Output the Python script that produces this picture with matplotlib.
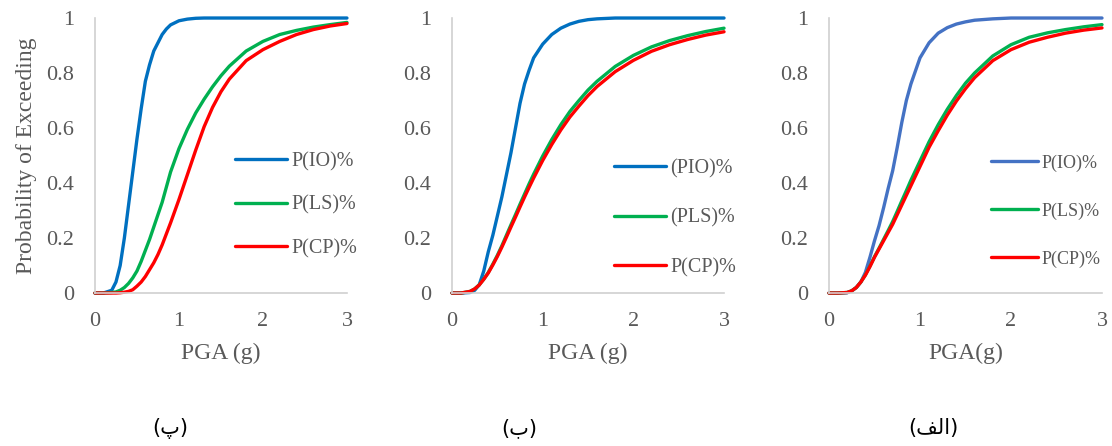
import matplotlib
matplotlib.use("Agg")
import matplotlib.pyplot as plt

plt.rcParams["font.family"] = ["Liberation Serif", "DejaVu Serif"]

# PGA (g) sample points
pga = [0, 0.1, 0.2, 0.25, 0.3, 0.35, 0.4, 0.45, 0.5, 0.55, 0.6, 0.65, 0.7, 0.75,
       0.8, 0.85, 0.9, 1.0, 1.1, 1.2, 1.3, 1.4, 1.5, 1.6, 1.8, 2.0, 2.2, 2.4,
       2.6, 2.8, 3.0]

# panel (پ) - left
io_p = [0, 0, 0.01, 0.04, 0.10, 0.20, 0.32, 0.44, 0.56, 0.67, 0.77, 0.83, 0.88,
        0.91, 0.94, 0.96, 0.975, 0.99, 0.996, 0.999, 1, 1, 1, 1, 1, 1, 1, 1, 1,
        1, 1]
ls_p = [0, 0, 0.002, 0.004, 0.01, 0.02, 0.035, 0.055, 0.08, 0.115, 0.155, 0.195,
        0.24, 0.285, 0.33, 0.385, 0.44, 0.525, 0.595, 0.655, 0.705, 0.75, 0.79,
        0.825, 0.88, 0.915, 0.94, 0.955, 0.967, 0.976, 0.984]
cp_p = [0, 0, 0, 0, 0.001, 0.003, 0.006, 0.012, 0.025, 0.04, 0.06, 0.085, 0.11,
        0.14, 0.175, 0.215, 0.255, 0.34, 0.43, 0.52, 0.605, 0.675, 0.732, 0.778,
        0.845, 0.885, 0.915, 0.94, 0.958, 0.971, 0.98]

# panel (ب) - middle
io_b = [0, 0, 0.002, 0.01, 0.03, 0.08, 0.15, 0.21, 0.28, 0.35, 0.43, 0.51, 0.6,
        0.69, 0.76, 0.81, 0.855, 0.905, 0.94, 0.963, 0.978, 0.988, 0.994,
        0.997, 1, 1, 1, 1, 1, 1, 1]
ls_b = [0, 0, 0.006, 0.015, 0.03, 0.05, 0.075, 0.105, 0.137, 0.172, 0.21, 0.248,
        0.285, 0.323, 0.36, 0.397, 0.432, 0.498, 0.558, 0.612, 0.66, 0.70,
        0.738, 0.77, 0.824, 0.864, 0.895, 0.918, 0.936, 0.951, 0.963]
cp_b = [0, 0, 0.006, 0.015, 0.029, 0.05, 0.073, 0.102, 0.133, 0.167, 0.203,
        0.24, 0.276, 0.313, 0.349, 0.384, 0.418, 0.482, 0.54, 0.593, 0.64, 0.68,
        0.718, 0.751, 0.805, 0.846, 0.879, 0.903, 0.922, 0.938, 0.95]

# panel (الف) - right
io_a = [0, 0, 0.001, 0.008, 0.02, 0.04, 0.075, 0.13, 0.19, 0.245, 0.31, 0.38,
        0.445, 0.53, 0.62, 0.7, 0.76, 0.855, 0.91, 0.945, 0.965, 0.978, 0.986,
        0.992, 0.997, 1, 1, 1, 1, 1, 1]
ls_a = [0, 0, 0.002, 0.008, 0.02, 0.04, 0.066, 0.098, 0.132, 0.163, 0.195,
        0.227, 0.26, 0.297, 0.335, 0.372, 0.41, 0.48, 0.55, 0.612, 0.668, 0.718,
        0.763, 0.80, 0.862, 0.903, 0.93, 0.946, 0.958, 0.968, 0.976]
cp_a = [0, 0, 0.002, 0.008, 0.02, 0.04, 0.065, 0.096, 0.13, 0.16, 0.19, 0.22,
        0.25, 0.285, 0.32, 0.355, 0.39, 0.46, 0.53, 0.59, 0.647, 0.698, 0.743,
        0.783, 0.845, 0.885, 0.912, 0.93, 0.945, 0.956, 0.964]

y_ticks = [0, 0.2, 0.4, 0.6, 0.8, 1]
y_labels = ["0", "0.2", "0.4", "0.6", "0.8", "1"]
x_ticks = [0, 1, 2, 3]

panels = [
    dict(rect=[0.0854, 0.343, 0.2266, 0.6166], data=[io_p, ls_p, cp_p],
         labels=["P(IO)%", "P(LS)%", "P(CP)%"], blue="#0070C0",
         xlabel="PGA (g)", anchor=(0.556, 0.32), lfs=14.5, spacing=1.2,
         ylabel=True, cap="(پ)", capx=0.153),
    dict(rect=[0.4065, 0.343, 0.2446, 0.6166], data=[io_b, ls_b, cp_b],
         labels=["(PIO)%", "(PLS)%", "P(CP)%"], blue="#0070C0",
         xlabel="PGA (g)", anchor=(0.596, 0.273), lfs=14.5, spacing=1.5,
         ylabel=False, cap="(ب)", capx=0.467),
    dict(rect=[0.7455, 0.343, 0.2455, 0.6166], data=[io_a, ls_a, cp_a],
         labels=["P(IO)%", "P(LS)%", "P(CP)%"], blue="#4472C4",
         xlabel="PGA(g)", anchor=(0.593, 0.298), lfs=13, spacing=1.7,
         ylabel=False, cap="(ﻒﻟﺍ)", capx=0.839),
]

fig = plt.figure(figsize=(11.12, 4.46), dpi=100)
grey = "#595959"

for p in panels:
    ax = fig.add_axes(p["rect"])
    colors = [p["blue"], "#00B050", "#FF0000"]
    for ys, lab, c in zip(p["data"], p["labels"], colors):
        ax.plot(pga, ys, color=c, lw=2.4, label=lab, clip_on=False,
                solid_capstyle="round", solid_joinstyle="round")
    ax.set_xlim(0, 3)
    ax.set_ylim(0, 1)
    ax.set_xticks(x_ticks)
    ax.set_xticklabels([str(t) for t in x_ticks])
    ax.set_yticks(y_ticks)
    ax.set_yticklabels(y_labels)
    ax.tick_params(length=0, labelsize=16, colors=grey)
    ax.tick_params(axis="x", pad=14)
    ax.tick_params(axis="y", pad=15)
    for s in ["top", "right"]:
        ax.spines[s].set_visible(False)
    for s in ["left", "bottom"]:
        ax.spines[s].set_color("#D0D0D0")
        ax.spines[s].set_linewidth(1.2)
    ax.set_xlabel(p["xlabel"], fontsize=17, color=grey, labelpad=8)
    if p["ylabel"]:
        ax.set_ylabel("Probability of Exceeding", fontsize=17, color=grey,
                      labelpad=7)
    leg = ax.legend(loc="center left", bbox_to_anchor=p["anchor"],
                    frameon=False, fontsize=p["lfs"], handlelength=2.6,
                    handletextpad=0.2, labelspacing=p["spacing"],
                    borderpad=0, borderaxespad=0)
    for t in leg.get_texts():
        t.set_color(grey)
    fig.text(p["capx"], 0.04, p["cap"], ha="center", va="center",
             fontsize=15, family=["DejaVu Sans"], color="black")

fig.savefig("out.png", dpi=100)
